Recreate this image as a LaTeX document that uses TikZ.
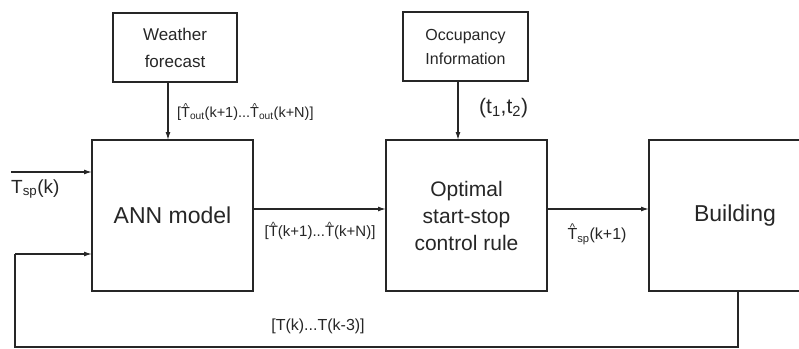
\documentclass[tikz,border=0pt]{standalone}
\usepackage{fontspec}
\usepackage{graphicx}
\setmainfont{Liberation Sans}
\usetikzlibrary{arrows.meta}
\newcommand{\Th}{\makebox[0pt][l]{\hspace{0.14em}\raisebox{0.52em}{\scalebox{0.7}{\textasciicircum}}}T}
\newcommand{\sbs}[1]{\textsubscript{#1}}
\begin{document}
\begin{tikzpicture}[x=1pt,y=-1pt,
  box/.style={draw=black!85, line width=1.4pt, inner sep=0pt, outer sep=0pt, align=center, text=black!85},
  conn/.style={draw=black!85, line width=1.3pt},
  arr/.style={conn, -{Latex[length=8pt,width=5pt]}},
  lbl/.style={inner sep=0pt, text=black!85}]
\useasboundingbox (0,0) rectangle (799,348);
\clip (0,0) rectangle (799,348);
\fill[white] (0,0) rectangle (799,348);
% boxes
\node[box, minimum width=124pt, minimum height=69pt, font=\fontsize{17}{27}\selectfont] (weather) at (175,47.5) {Weather\\forecast};
\node[box, minimum width=125pt, minimum height=69pt, font=\fontsize{16}{24}\selectfont] (occ) at (465.5,46.5) {Occupancy\\Information};
\node[box, minimum width=161pt, minimum height=151pt, font=\fontsize{23}{27}\selectfont] (ann) at (172.5,215.5) {ANN model};
\node[box, minimum width=161pt, minimum height=151pt, font=\fontsize{21}{27}\selectfont] (opt) at (466.5,215.5) {Optimal\\start-stop\\control rule};
\node[box, minimum width=172pt, minimum height=151pt, font=\fontsize{23}{27}\selectfont] (bld) at (735,215.5) {Building};
% helper coordinates
\coordinate (wx) at (168,0);
\coordinate (ox) at (458,0);
\coordinate (tin) at (11,172);
\coordinate (ay) at (0,209);
\coordinate (fb) at (738,0);
\coordinate (fbl) at (15,347);
\coordinate (fbt) at (15,254);
% connectors
\draw[arr] (weather.south -| wx) -- (ann.north -| wx);
\draw[arr] (occ.south -| ox) -- (opt.north -| ox);
\draw[arr] (tin) -- (ann.west |- tin);
\draw[arr] (ann.east |- ay) -- (opt.west |- ay);
\draw[arr] (opt.east |- ay) -- (bld.west |- ay);
\draw[conn] (bld.south -| fb) |- (fbl) -- (fbt);
\draw[arr] (fbt) -- (ann.west |- fbt);
% labels
\node[lbl, anchor=west, font=\fontsize{14.5}{16}\selectfont] (l1) at (177,112) {[\Th\sbs{out}(k+1)...\Th\sbs{out}(k+N)]};
\node[lbl, anchor=west, font=\fontsize{21}{24}\selectfont] (l2) at (479,108) {(t\sbs{1},t\sbs{2})};
\node[lbl, anchor=west, font=\fontsize{19}{22}\selectfont] (l3) at (11,189) {T\sbs{sp}(k)};
\node[lbl, font=\fontsize{15}{17}\selectfont] (l4) at (320,231) {[\Th(k+1)...\Th(k+N)]};
\node[lbl, font=\fontsize{16}{18}\selectfont] (l5) at (597,234) {\Th\sbs{sp}(k+1)};
\node[lbl, font=\fontsize{16}{18}\selectfont] (l6) at (318,326) {[T(k)...T(k-3)]};
\end{tikzpicture}
\end{document}
